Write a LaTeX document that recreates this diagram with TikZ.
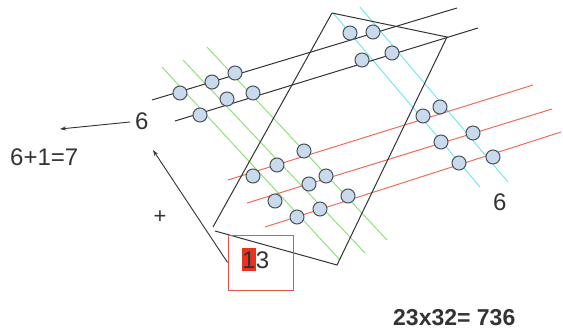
\documentclass[tikz,border=0pt]{standalone}
\usepackage{fontspec}
\setmainfont{Liberation Sans}
\usetikzlibrary{arrows.meta}
\definecolor{lgreen}{HTML}{90E07C}
\definecolor{lcyan}{HTML}{78E6EA}
\definecolor{lred}{HTML}{F06A5C}
\definecolor{boxred}{HTML}{E0554C}
\definecolor{hlred}{HTML}{E8341F}
\definecolor{beadfill}{HTML}{C8DAEC}
\definecolor{beadline}{HTML}{4A525A}
\definecolor{ink}{HTML}{333333}
\begin{document}
\begin{tikzpicture}[x=1pt,y=-1pt,
  blk/.style={draw=ink, line width=1pt},
  grn/.style={draw=lgreen, line width=1pt},
  cyn/.style={draw=lcyan, line width=1pt},
  rd/.style={draw=lred, line width=1pt},
  bead/.style={circle, draw=beadline, fill=beadfill, line width=1pt, minimum size=14pt, inner sep=0pt},
  lbl/.style={inner sep=0pt, anchor=base west, text=ink, font=\fontsize{24}{24}\selectfont},
  arr/.style={draw=ink, line width=0.9pt, -{Stealth[length=6pt,width=4pt]}}]
\useasboundingbox (0,0) rectangle (563,329);
% green lines (32: tens)
\draw[grn] (162,67) -- (340,260);
\draw[grn] (183,60) -- (365,253);
\draw[grn] (207,47) -- (387,240);
% cyan lines (32: units)
\draw[cyn] (333,13) -- (480,187);
\draw[cyn] (360,7) -- (508,182);
% red lines (23: units)
\draw[rd] (228,180) -- (533,85);
\draw[rd] (247,203) -- (552,109);
\draw[rd] (265,227) -- (561,132);
% black lines (23: tens)
\draw[blk] (152,100) -- (457,8);
\draw[blk] (175,121) -- (478,28);
% parallelogram
\draw[blk] (332,13) -- (447,37) -- (337,265) -- (215,231);
\draw[blk] (332,13) -- (213,227);
% beads
\foreach \p/\q in {180/93,212/82,235/73,200/115,227/99,253/93,
  350/33,373/32,362/60,392/53,
  304/151,277/165,253/176,326/176,309/184,275/201,348/196,320/209,297/217,
  423/116,440/107,473/133,441/142,459/163,493/157}
  \node[bead] at (\p,\q) {};
% texts
\node[lbl] (six) at (135,130) {6};
\node[lbl] (sum) at (10,165) {6+1=7};
\node[lbl, font=\fontsize{22}{22}\selectfont] (plus) at (160,217) [anchor=center] {+};
\node[lbl] (sixb) at (493,210) {6};
\node[lbl, font=\bfseries\fontsize{23}{23}\selectfont] (res) at (393,325) {23x32= 736};
\node[draw=boxred, line width=0.9pt, minimum width=65pt, minimum height=55pt, inner sep=0pt] (box) at (260.5,262.5) {};
\node[lbl, fill=hlred, inner ysep=3pt] (one) at (242,268) {1};
\node[lbl] (three) at (one.base east) {3};
% arrows
\coordinate (a1s) at (130,122);
\coordinate (a1e) at (60,129);
\coordinate (a2e) at (153,150);
\draw[arr] (a1s) -- (a1e);
\draw[arr] (box.west) -- (a2e);
\end{tikzpicture}
\end{document}
